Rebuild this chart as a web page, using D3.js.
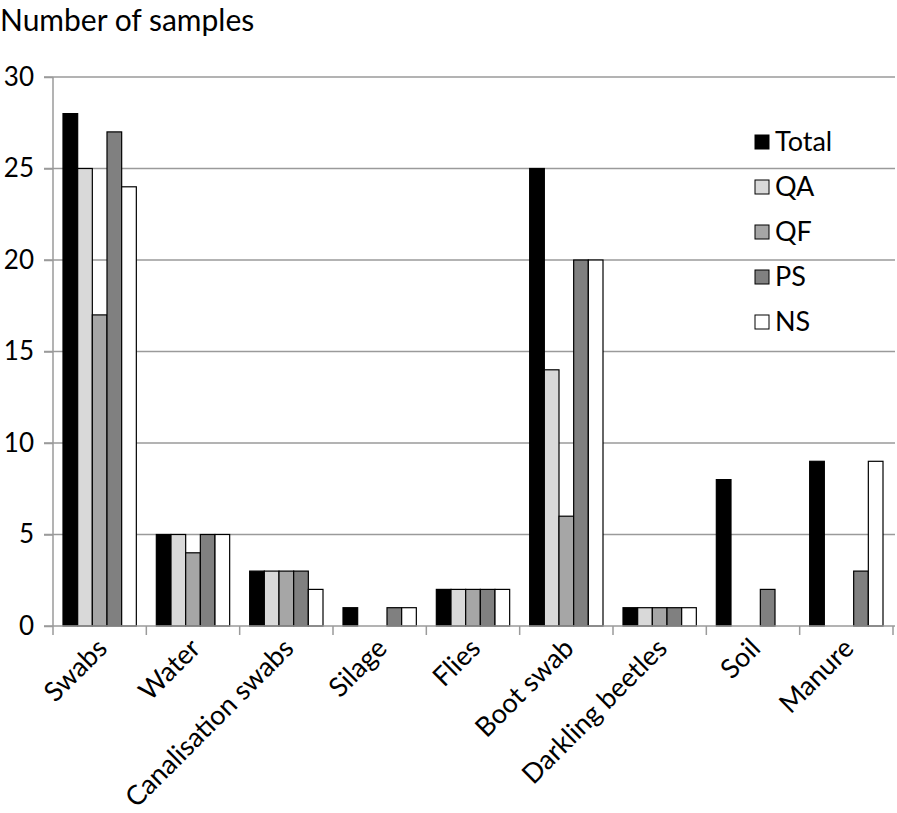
<!DOCTYPE html>
<html><head><meta charset="utf-8">
<script src="https://cdn.jsdelivr.net/npm/d3@7"></script>
<style>body{margin:0;background:#fff}svg{display:block}</style>
</head><body>
<script>
const categories = ["Swabs","Water","Canalisation swabs","Silage","Flies","Boot swab","Darkling beetles","Soil","Manure"];
const seriesNames = ["Total","QA","QF","PS","NS"];
const total = [28,5,3,1,2,25,1,8,9];
const qa    = [25,5,3,0,2,14,1,0,0];
const qf    = [17,4,3,0,2,6,1,0,0];
const ps    = [27,5,3,1,2,20,1,2,3];
const ns    = [24,5,2,1,2,20,1,0,9];
const yTicks = [0,5,10,15,20,25,30];
const colors = ["#000000","#d9d9d9","#a6a6a6","#808080","#ffffff"];
const allSeries = [total,qa,qf,ps,ns];

const W=897,H=813;
const font = "Lato, 'Open Sans', sans-serif";
const svg = d3.select("body").append("svg").attr("width",W).attr("height",H);
const x0=53,x1=893,yTop=77,yBot=626;
const x = d3.scaleBand().domain(categories).range([x0,x1]).paddingInner(0).paddingOuter(0);
const y = d3.scaleLinear().domain([0,30]).range([yBot,yTop]);
const inner = d3.scaleBand().domain(seriesNames).range([0,x.bandwidth()]).paddingOuter(0.6818).paddingInner(0);

// gridlines
svg.append("g").selectAll("line").data(yTicks.filter(d=>d>0)).join("line")
  .attr("x1",44).attr("x2",x1+2).attr("y1",d=>y(d)).attr("y2",d=>y(d))
  .attr("stroke","#9a9a9a").attr("stroke-width",1.5);

// y axis
const ya = svg.append("g").attr("transform",`translate(${x0},0)`)
  .call(d3.axisLeft(y).tickValues(yTicks).tickSize(9).tickPadding(10).tickFormat(d3.format("d")));
ya.select(".domain").attr("stroke","#9a9a9a").attr("stroke-width",1.5).attr("d",`M0,${yTop}V${yBot}`);
ya.selectAll(".tick line").attr("stroke","#9a9a9a").attr("stroke-width",1.5);
ya.selectAll("text").attr("font-family",font).attr("font-size",26).attr("fill","#000");

// bars
const groups = svg.append("g").selectAll("g").data(categories).join("g")
  .attr("transform",d=>`translate(${x(d)},0)`);
groups.selectAll("rect").data((c,i)=>seriesNames.map((s,j)=>({s,j,v:allSeries[j][i]})).filter(d=>d.v>0)).join("rect")
  .attr("x",d=>inner(d.s)).attr("width",inner.bandwidth())
  .attr("y",d=>y(d.v)).attr("height",d=>yBot-y(d.v))
  .attr("fill",d=>colors[d.j]).attr("stroke","#000").attr("stroke-width",1.2);

// x axis
const xa = svg.append("g").attr("transform",`translate(0,${yBot})`)
  .call(d3.axisBottom(x).tickSize(0).tickFormat(""));
xa.select(".domain").attr("stroke","#9a9a9a").attr("stroke-width",1.5).attr("d",`M44,0H${x1+2}`);
xa.selectAll(".tick").remove();
svg.append("g").selectAll("line").data(d3.range(categories.length+1)).join("line")
  .attr("x1",i=>x0+i*x.step()).attr("x2",i=>x0+i*x.step()).attr("y1",yBot).attr("y2",yBot+9)
  .attr("stroke","#9a9a9a").attr("stroke-width",1.5);
svg.append("g").selectAll("text").data(categories).join("text")
  .attr("transform",d=>`translate(${x(d)+x.bandwidth()/2+9},${yBot+24}) rotate(-45)`)
  .attr("text-anchor","end").attr("font-family",font).attr("font-size",27).attr("fill","#000")
  .text(d=>d);

// title
svg.append("text").attr("x",0).attr("y",31).attr("font-family",font).attr("font-size",30).attr("fill","#000").text("Number of samples");

// legend
const lg = svg.append("g").selectAll("g").data(seriesNames).join("g")
  .attr("transform",(d,i)=>`translate(755,${142+i*45})`);
lg.append("rect").attr("x",0).attr("y",-7).attr("width",14).attr("height",14)
  .attr("fill",(d,i)=>colors[i]).attr("stroke","#000").attr("stroke-width",1);
lg.append("text").attr("x",20).attr("y",0).attr("dy","0.35em").attr("font-family",font).attr("font-size",27).attr("fill","#000").text(d=>d);
</script>
</body></html>
